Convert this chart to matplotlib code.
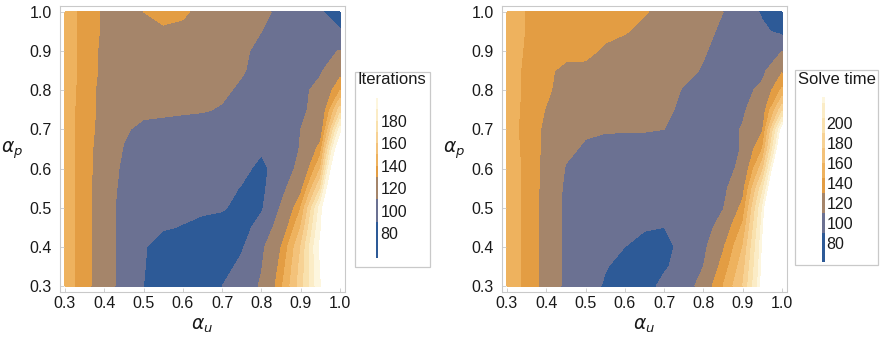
import numpy as np
import matplotlib
matplotlib.use("Agg")
import matplotlib.pyplot as plt
from matplotlib.patches import Rectangle

plt.rcParams['font.family'] = ['Liberation Sans', 'DejaVu Sans']
plt.rcParams['mathtext.fontset'] = 'dejavusans'

# ---- grid (alpha_u along columns, alpha_p along rows) ----
alpha_u = [0.30, 0.35, 0.40, 0.45, 0.50, 0.55, 0.60, 0.65, 0.70, 0.75, 0.80, 0.85, 0.90, 0.95, 1.00]
alpha_p = [0.30, 0.35, 0.40, 0.45, 0.50, 0.55, 0.60, 0.65, 0.70, 0.75, 0.80, 0.85, 0.90, 0.95, 1.00]

# ---- Iterations (one list per alpha_p row, bottom to top) ----
iter_p030 = [145, 135, 120, 102, 90, 80, 76, 80, 90, 100, 112, 138, 165, 200, 300]
iter_p035 = [145, 135, 120, 102, 91, 80, 76, 78, 84, 94, 109, 134, 163, 202, 300]
iter_p040 = [145, 135, 120, 102, 92, 80, 76, 77, 80, 88, 106, 130, 160, 205, 300]
iter_p045 = [145, 135, 120, 102, 96, 92, 89, 84, 82, 84, 96, 120, 150, 200, 295]
iter_p050 = [145, 135, 120, 102, 98, 96, 95, 94, 92, 84, 88, 112, 140, 195, 290]
iter_p055 = [145, 135, 121, 104, 100, 98, 97, 96, 95, 89, 86, 104, 126, 170, 270]
iter_p060 = [145, 135, 122, 106, 102, 100, 100, 99, 97, 94, 86, 98, 116, 150, 250]
iter_p065 = [145, 135, 123, 109, 104, 102, 102, 101, 100, 97, 92, 100, 111, 135, 225]
iter_p070 = [145, 135, 125, 112, 106, 105, 104, 104, 103, 101, 100, 102, 110, 122, 195]
iter_p075 = [145, 135, 126, 118, 114, 113, 112, 111, 109, 105, 102, 101, 106, 118, 165]
iter_p080 = [146, 135, 126, 122, 120, 118, 116, 114, 112, 108, 104, 102, 106, 115, 140]
iter_p085 = [146, 136, 127, 123, 122, 122, 119, 116, 114, 111, 106, 102, 101, 108, 125]
iter_p090 = [146, 136, 127, 124, 124, 125, 122, 118, 115, 112, 107, 103, 100, 104, 111]
iter_p095 = [146, 136, 128, 126, 127, 128, 127, 122, 118, 114, 110, 106, 100, 97, 92]
iter_p100 = [146, 136, 128, 127, 130, 134, 132, 126, 120, 116, 112, 108, 100, 92, 80]

# ---- Solve time ----
time_p030 = [152, 142, 122, 106, 98, 88, 82, 84, 94, 100, 118, 145, 175, 235, 320]
time_p035 = [152, 142, 122, 106, 99, 91, 85, 84, 88, 96, 110, 136, 168, 232, 320]
time_p040 = [152, 142, 122, 106, 100, 96, 90, 86, 86, 94, 106, 128, 160, 230, 320]
time_p045 = [152, 142, 122, 106, 101, 98, 94, 91, 90, 92, 102, 118, 148, 226, 315]
time_p050 = [152, 142, 122, 106, 102, 100, 98, 96, 95, 96, 100, 109, 135, 220, 310]
time_p055 = [152, 142, 123, 107, 103, 101, 99, 98, 97, 98, 100, 106, 124, 200, 300]
time_p060 = [152, 142, 124, 109, 104, 102, 101, 100, 100, 100, 101, 104, 114, 170, 290]
time_p065 = [152, 141, 125, 113, 108, 106, 105, 104, 104, 103, 102, 104, 111, 145, 260]
time_p070 = [152, 140, 126, 116, 112, 111, 111, 111, 110, 106, 104, 105, 111, 128, 240]
time_p075 = [152, 141, 129, 119, 116, 115, 114, 113, 112, 108, 104, 103, 108, 120, 185]
time_p080 = [152, 142, 133, 122, 120, 119, 118, 117, 115, 109, 104, 102, 105, 114, 148]
time_p085 = [152, 142, 133, 126, 127, 123, 121, 119, 116, 113, 109, 104, 102, 106, 128]
time_p090 = [153, 143, 138, 135, 133, 128, 124, 120, 117, 114, 111, 106, 102, 103, 110]
time_p095 = [153, 144, 139, 137, 135, 133, 131, 126, 121, 117, 113, 108, 101, 93, 86]
time_p100 = [153, 144, 140, 138, 137, 136, 134, 131, 126, 120, 115, 110, 100, 88, 74]

iter_levels = [58, 90, 110, 130, 140, 150, 160, 170, 180, 190, 200]
time_levels = [61, 90, 110, 130, 145, 160, 175, 190, 205, 220, 226]
iter_ticks = [80, 100, 120, 140, 160, 180]
time_ticks = [80, 100, 120, 140, 160, 180, 200]
axis_ticks = [0.3, 0.4, 0.5, 0.6, 0.7, 0.8, 0.9, 1.0]

band_colors = ['#2d5a97', '#6b7192', '#a5856a', '#e39d43', '#eeb25e',
               '#f3c27a', '#f7d294', '#f9e1ad', '#fbecc6', '#fdf6de']

iters = np.array([iter_p030, iter_p035, iter_p040, iter_p045, iter_p050,
                  iter_p055, iter_p060, iter_p065, iter_p070, iter_p075,
                  iter_p080, iter_p085, iter_p090, iter_p095, iter_p100], float)
times = np.array([time_p030, time_p035, time_p040, time_p045, time_p050,
                  time_p055, time_p060, time_p065, time_p070, time_p075,
                  time_p080, time_p085, time_p090, time_p095, time_p100], float)

W, H = 881, 340
fig = plt.figure(figsize=(W / 100, H / 100), dpi=100)
fig.patch.set_facecolor('white')


def rect(l, t, r, b):
    return [l / W, 1 - b / H, (r - l) / W, (b - t) / H]


FS = 11.5
frame_col = '#c9c9c9'


def panel(axr, Z, levels, caxr, boxr, title, cticks, title_xy):
    ax = fig.add_axes(rect(*axr))
    cs = ax.contourf(alpha_u, alpha_p, Z, levels=levels, colors=band_colors)
    ax.set_xlim(0.2873, 1.0127)
    ax.set_ylim(0.2847, 1.0153)
    ax.set_xticks(axis_ticks)
    ax.set_yticks(axis_ticks)
    ax.set_xticklabels([f"{t:.1f}" for t in axis_ticks])
    ax.set_yticklabels([f"{t:.1f}" for t in axis_ticks])
    ax.tick_params(direction='in', length=3, width=0.6, color=frame_col,
                   labelsize=FS, labelcolor='#1a1a1a')
    ax.tick_params(axis='y', pad=6)
    ax.tick_params(axis='x', pad=3)
    for s in ax.spines.values():
        s.set_color(frame_col)
        s.set_linewidth(0.8)
    ax.text(0.5, -0.118, r'$\alpha_u$', transform=ax.transAxes, ha='center',
            va='center', fontsize=13.5, color='#1a1a1a')
    ax.text(-0.168, 0.495, r'$\alpha_p$', transform=ax.transAxes, ha='center',
            va='center', fontsize=13.5, color='#1a1a1a')

    l, t, r, b = boxr
    fig.patches.append(Rectangle((l / W, 1 - b / H), (r - l) / W, (b - t) / H,
                                 transform=fig.transFigure, facecolor='none',
                                 edgecolor=frame_col, linewidth=0.9, zorder=-1))
    fig.text(title_xy[0] / W, 1 - title_xy[1] / H, title, ha='center', va='center',
             fontsize=FS + 0.5, color='#1a1a1a')
    cax = fig.add_axes(rect(*caxr))
    cax.set_zorder(5)
    cb = fig.colorbar(cs, cax=cax, ticks=cticks, spacing='proportional')
    cb.outline.set_visible(False)
    cax.tick_params(length=0, labelsize=FS, pad=1.5, labelcolor='#1a1a1a')
    return ax


panel((60, 6, 345, 292), iters, iter_levels, (375.5, 98, 378.5, 258),
      (355, 72, 430, 267), 'Iterations', iter_ticks, (392, 80))
panel((502, 6, 787, 292), times, time_levels, (821.5, 97, 824.5, 262),
      (795, 70, 878, 265), 'Solve time', time_ticks, (837, 79))

fig.savefig('out.png', dpi=100)
